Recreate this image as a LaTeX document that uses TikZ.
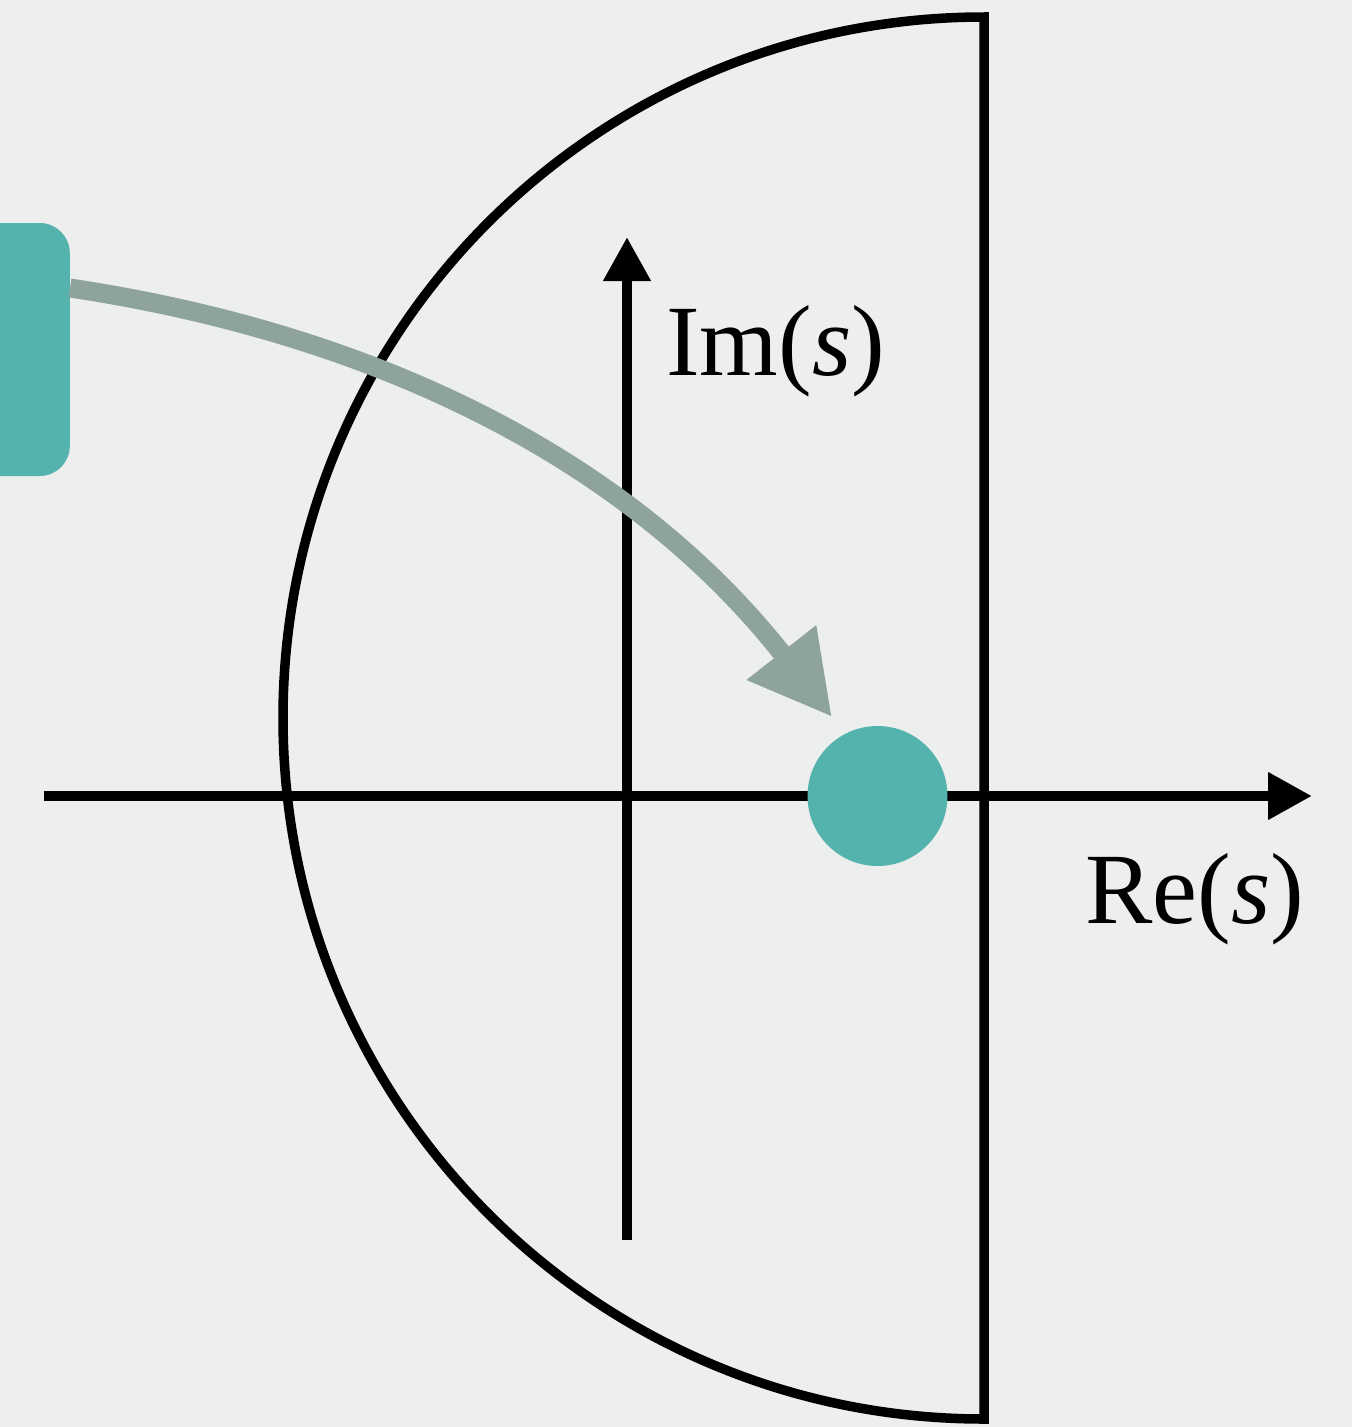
\documentclass[tikz,border=0pt]{standalone}
\usepackage{fontspec}
\setmainfont{Liberation Serif}[ItalicFont={Liberation Serif Italic}]
\newfontfamily\itfam{Liberation Serif Italic}
\usetikzlibrary{arrows.meta}
\definecolor{bgc}{RGB}{237,239,238}
\definecolor{tealc}{RGB}{84,179,173}
\definecolor{grayc}{RGB}{143,163,158}
\tikzset{
  axisline/.style={line width=10.5pt, black},
  axtip/.style={-{Triangle[length=44pt,width=45pt]}},
  contour/.style={line width=9.5pt, black, line join=miter},
  lbl/.style={anchor=base west, inner sep=0pt, font=\fontsize{101}{120}\selectfont},
  flowarrow/.style={line width=19pt, grayc, -{Triangle[length=82pt,width=83pt]}},
}
\begin{document}
\begin{tikzpicture}[x=1pt,y=-1pt]
\useasboundingbox[fill=bgc] (0,0) rectangle (1352,1427);
% semicircular contour
\draw[contour] (984,17) arc[start angle=-90, end angle=-270, radius=701] -- cycle;
% axes
\coordinate (xs) at (44,796);
\coordinate (xe) at (1312,796);
\coordinate (ys) at (627,1240);
\coordinate (ye) at (627,237);
\draw[axisline,axtip] (xs) -- (xe);
\draw[axisline,axtip] (ys) -- (ye);
% labels
\node[lbl] (im) at (666,375) {Im({\itfam s})};
\node[lbl] (re) at (1085,923) {Re({\itfam s})};
% source box
\node[fill=tealc, rounded corners=30pt, minimum width=140pt, minimum height=253pt, inner sep=0pt, anchor=east] (box) at (70,349.5) {};
% pole
\node[circle, fill=tealc, minimum size=140pt, inner sep=0pt] (pole) at (877.5,796) {};
% arrow
\coordinate (a0) at (box.east |- 0,288);
\coordinate (a1) at (832,717);
\draw[flowarrow] (a0) .. controls (370,333) and (627,456) .. (a1);
\end{tikzpicture}
\end{document}
